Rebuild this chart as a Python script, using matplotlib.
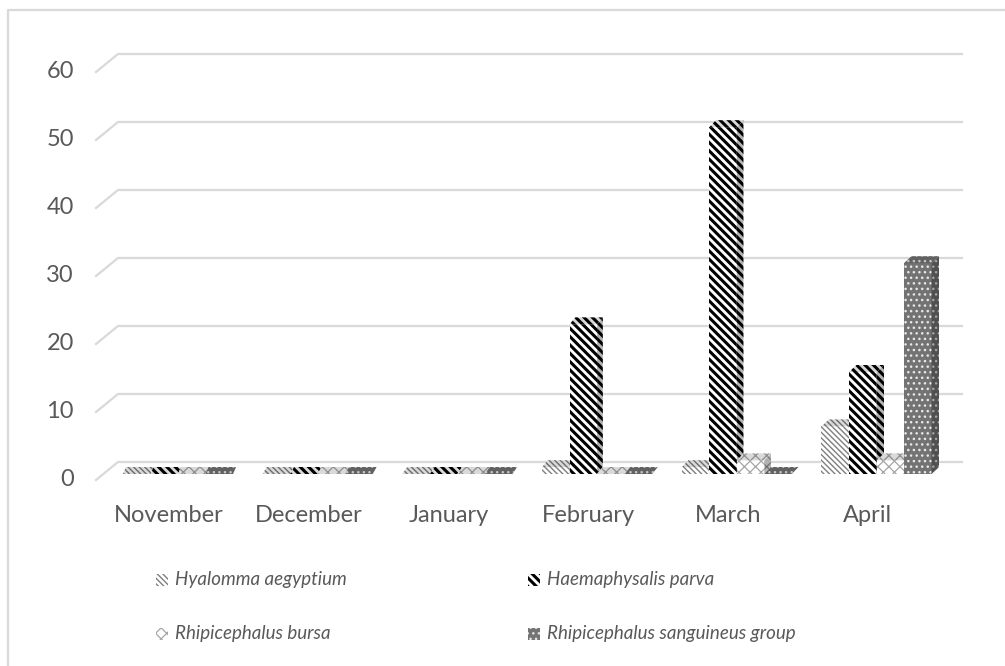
import numpy as np
import matplotlib
matplotlib.use("Agg")
import matplotlib.pyplot as plt
from matplotlib.patches import Polygon, Rectangle

# --- data: tick counts per month ---
months = ["November", "December", "January", "February", "March", "April"]
species = ["Hyalomma aegyptium", "Haemaphysalis parva",
           "Rhipicephalus bursa", "Rhipicephalus sanguineus group"]
hyalomma = [0, 0, 0, 1, 1, 7]
haemaphysalis = [0, 0, 0, 22, 51, 15]
bursa = [0, 0, 0, 0, 2, 2]
sanguineus = [0, 0, 0, 0, 0, 31]
yticks = [0, 10, 20, 30, 40, 50, 60]

series = [hyalomma, haemaphysalis, bursa, sanguineus]

# fill pattern per species (face, hatch, hatch colour, hatch width)
styles = [
    dict(face="white", hatch="\\" * 6, hc="#7f7f7f", hlw=1.0),
    dict(face="white", hatch="\\" * 4, hc="black", hlw=2.2),
    dict(face="white", hatch="xxx", hc="#a6a6a6", hlw=0.9),
    dict(face="#737373", hatch="...", hc="#e8e8e8", hlw=1.0),
]

GRID = "#d9d9d9"
TEXT = "#595959"
FONT = "Lato"

W, H = 1005, 666
fig = plt.figure(figsize=(W / 100, H / 100), dpi=100)
ax = fig.add_axes([0, 0, 1, 1])
ax.axis("off")

# column plane geometry in pixels
X0, XSTEP = 178.0, 139.7      # first group centre, spacing between groups
Y0, YSCALE = 474.0, 6.8       # floor line (px from top), px per unit
ax.set_xlim(-X0 / XSTEP, (W - X0) / XSTEP)
ax.set_ylim((Y0 - H) / YSCALE, Y0 / YSCALE)


def px_x(p):
    return (p - X0) / XSTEP


def px_y(q):
    return (Y0 - q) / YSCALE


def du_x(p):
    return p / XSTEP


def du_y(p):
    return p / YSCALE


def style_patch(patch, st):
    patch.set_facecolor(st["face"])
    patch.set_edgecolor(st["hc"])
    patch.set_linewidth(0)
    patch.set_hatch(st["hatch"])
    if hasattr(patch, "set_hatch_linewidth"):
        patch.set_hatch_linewidth(st["hlw"])


# outer frame
ax.plot([px_x(8), px_x(8), px_x(W + 5)], [px_y(H + 5), px_y(10), px_y(10)],
        color=GRID, lw=1.6, clip_on=False)

# back wall gridlines + floor diagonals
BACK, FRONT = du_y(12), du_y(6)
for t in yticks:
    ax.plot([px_x(96), px_x(118), px_x(962)],
            [t - FRONT, t + BACK, t + BACK], color=GRID, lw=1.6, zorder=1)
    ax.text(px_x(74), t - FRONT, str(t), ha="right", va="center",
            fontsize=17, color=TEXT, family=FONT)

# category labels
for i, m in enumerate(months):
    ax.text(i - du_x(9), px_y(516), m, ha="center", va="center",
            fontsize=17, color=TEXT, family=FONT)

# 3-D columns
bw = du_x(27.5)
depth_y = du_y(7)
x = np.arange(len(months))
for i in range(len(months)):
    dxp = du_x(3 + 0.9 * i)
    for k, (vals, st) in enumerate(zip(series, styles)):
        with plt.rc_context({"hatch.linewidth": st["hlw"]}):
            xc = x[i] + (k - 1.5) * bw
            v = vals[i]
            x0, x1 = xc - bw / 2, xc + bw / 2
            if v > 0:
                bar = ax.bar(xc, v, width=bw, zorder=3)[0]
                style_patch(bar, st)
                side = [(x1, 0), (x1, v), (x1 + dxp, v + depth_y),
                        (x1 + dxp, depth_y)]
                sp = Polygon(side, closed=True, zorder=3)
                style_patch(sp, st)
                ax.add_patch(sp)
                ax.add_patch(Polygon(side, closed=True, facecolor="black",
                                     alpha=0.30, lw=0, zorder=3))
            top = [(x0, v), (x1, v), (x1 + dxp, v + depth_y),
                   (x0 + dxp, v + depth_y)]
            tp = Polygon(top, closed=True, zorder=3)
            style_patch(tp, st)
            ax.add_patch(tp)
            ax.add_patch(Polygon(top, closed=True, facecolor="black",
                                 alpha=0.15, lw=0, zorder=3))

# legend, two columns
leg_cols = [156, 528]
leg_rows = [580, 634]
for k, (name, st) in enumerate(zip(species, styles)):
    cx = leg_cols[k % 2]
    cy = leg_rows[k // 2]
    with plt.rc_context({"hatch.linewidth": st["hlw"]}):
        r = Rectangle((px_x(cx), px_y(cy + 6)), du_x(12), du_y(12), zorder=3)
        style_patch(r, st)
        ax.add_patch(r)
    ax.text(px_x(cx + 19), px_y(cy), name, ha="left", va="center",
            fontsize=13.5, style="italic", color=TEXT, family=FONT)

fig.savefig("out.png", dpi=100)
